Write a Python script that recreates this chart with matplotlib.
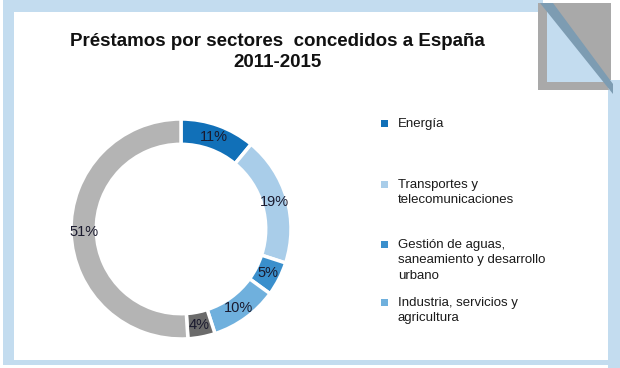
import matplotlib.pyplot as plt
from matplotlib.patches import Rectangle, Polygon

plt.rcParams['font.family'] = ['Liberation Sans', 'DejaVu Sans']

# data
shares = [11, 19, 5, 10, 4, 51]
colors = ['#1170b8', '#a9cde9', '#3a8fcc', '#6fb0dd', '#6b6b6b', '#b4b4b4']
legend_labels = ['Energía',
                 'Transportes y\ntelecomunicaciones',
                 'Gestión de aguas,\nsaneamiento y desarrollo\nurbano',
                 'Industria, servicios y\nagricultura']
title = 'Préstamos por sectores  concedidos a España\n2011-2015'

W, H = 620, 368
fig = plt.figure(figsize=(W / 100, H / 100), dpi=100)

# background frame, pixel coordinates
bg = fig.add_axes([0, 0, 1, 1])
bg.set_xlim(0, W)
bg.set_ylim(H, 0)
bg.axis('off')
frame = '#c3dcef'
bg.add_patch(Rectangle((3, 0), 540, 12, color=frame, lw=0))          # top
bg.add_patch(Rectangle((3, 0), 11, 365, color=frame, lw=0))          # left
bg.add_patch(Rectangle((3, 360), W - 3, 5, color=frame, lw=0))       # bottom
bg.add_patch(Rectangle((608, 86), 12, 282, color=frame, lw=0))       # right
# folded corner
bg.add_patch(Rectangle((538, 3), 73, 87, color='#a9a9a9', lw=0))
bg.add_patch(Polygon([(547, 3), (547, 82), (610, 82)], color=frame, lw=0))
bg.add_patch(Polygon([(606, 80), (620, 80), (620, 100), (612, 100)], color=frame, lw=0))
bg.add_patch(Polygon([(540, 3), (553, 3), (613, 84), (613, 94)], color='#7d9cb2', lw=0))

bg.text(277, 52, title, ha='center', va='center', fontsize=13.5,
        fontweight='bold', color='#111111', linespacing=1.35)

# legend
ys = [124, 185, 245, 303]
for lab, col, y in zip(legend_labels, colors[:4], ys):
    bg.add_patch(Rectangle((381, y - 4), 7, 7, color=col, lw=0))
    bg.text(398, y - 6, lab, ha='left', va='top', fontsize=9.5,
            color='#1a1a1a', linespacing=1.38)

# donut
cx, cy, r = 181, 229, 110
ax = fig.add_axes([(cx - r) / W, (H - cy - r) / H, 2 * r / W, 2 * r / H])
wedges, texts, autotexts = ax.pie(
    shares, colors=colors, startangle=90, counterclock=False,
    radius=1, autopct=lambda p: f'{p:.0f}%', pctdistance=0.885,
    wedgeprops=dict(width=0.23, edgecolor='white', linewidth=2.5),
    textprops=dict(fontsize=10.5, color='#1a1a2e'))
ax.set_xlim(-1, 1)
ax.set_ylim(-1, 1)
ax.set_aspect('equal')
ax.axis('off')

fig.savefig('out.png', dpi=100)
